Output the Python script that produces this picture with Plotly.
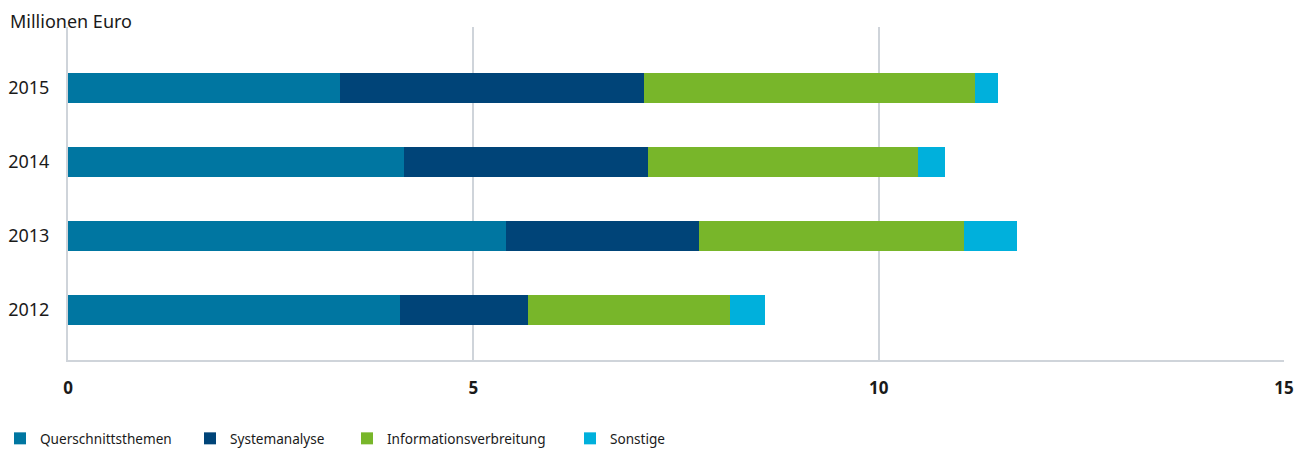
import plotly.graph_objects as go

# Fördermittel nach Themenbereich, in Millionen Euro
years = ["2012", "2013", "2014", "2015"]
querschnittsthemen = [4.10, 5.40, 4.14, 3.36]
systemanalyse = [1.58, 2.38, 3.02, 3.75]
informationsverbreitung = [2.48, 3.27, 3.33, 4.08]
sonstige = [0.44, 0.66, 0.33, 0.28]

series_names = ["Querschnittsthemen", "Systemanalyse", "Informationsverbreitung", "Sonstige"]
series_values = [querschnittsthemen, systemanalyse, informationsverbreitung, sonstige]
series_colors = ["#0076a1", "#004478", "#78b62a", "#00b0dc"]

x_ticks = [0, 5, 10, 15]

W, H = 1306, 457
L, R, T, B = 68, 22, 27, 97
PW, PH = W - L - R, H - T - B

# one legend per series so each entry sits at its own horizontal position
legend_ids = ["legend", "legend2", "legend3", "legend4"]
legend_left_px = [-5, 190, 347, 570]

fig = go.Figure()
for name, vals, col, lid in zip(series_names, series_values, series_colors, legend_ids):
    fig.add_trace(go.Bar(
        y=years, x=vals, name=name, orientation="h",
        marker=dict(color=col, line=dict(width=0)),
        width=0.405, legend=lid,
    ))

legend_font = dict(family="Noto Sans", size=13.6, color="#1a1a1a")
legends = {}
for lid, lx in zip(legend_ids, legend_left_px):
    legends[lid] = dict(
        orientation="h", xref="paper", yref="container",
        x=(lx - L) / PW, xanchor="left", y=1 - 438.5 / H, yanchor="middle",
        font=legend_font, bgcolor="rgba(0,0,0,0)",
    )

grid_col = "#cfd4da"
fig.update_layout(
    barmode="stack",
    width=W, height=H,
    margin=dict(l=L, r=R, t=T, b=B),
    paper_bgcolor="white", plot_bgcolor="white",
    font=dict(family="Noto Sans", color="#1a1a1a"),
    showlegend=True,
    annotations=[dict(
        text="Millionen Euro", xref="paper", yref="paper",
        x=(8 - L) / PW, y=(H - B - 21) / PH,
        xanchor="left", yanchor="middle",
        showarrow=False, font=dict(size=18, color="#1a1a1a"),
    )],
    **legends,
)
fig.update_xaxes(
    range=[0, 15], tickvals=x_ticks, ticktext=[str(v) for v in x_ticks],
    showgrid=True, gridcolor=grid_col, gridwidth=2,
    showline=True, linecolor=grid_col, linewidth=2,
    zeroline=False, ticks="", ticklabelstandoff=12, automargin=False,
    tickfont=dict(size=17, family="Noto Sans", weight="bold", color="#1a1a1a"),
    fixedrange=True,
)
fig.update_yaxes(
    type="category", categoryorder="array", categoryarray=years,
    range=[-0.676, 3.824],
    showgrid=False, showline=True, linecolor=grid_col, linewidth=2,
    ticks="", ticklabelstandoff=13, automargin=False,
    tickfont=dict(size=18, color="#1a1a1a"),
    fixedrange=True,
)

fig.write_html("out.html")
